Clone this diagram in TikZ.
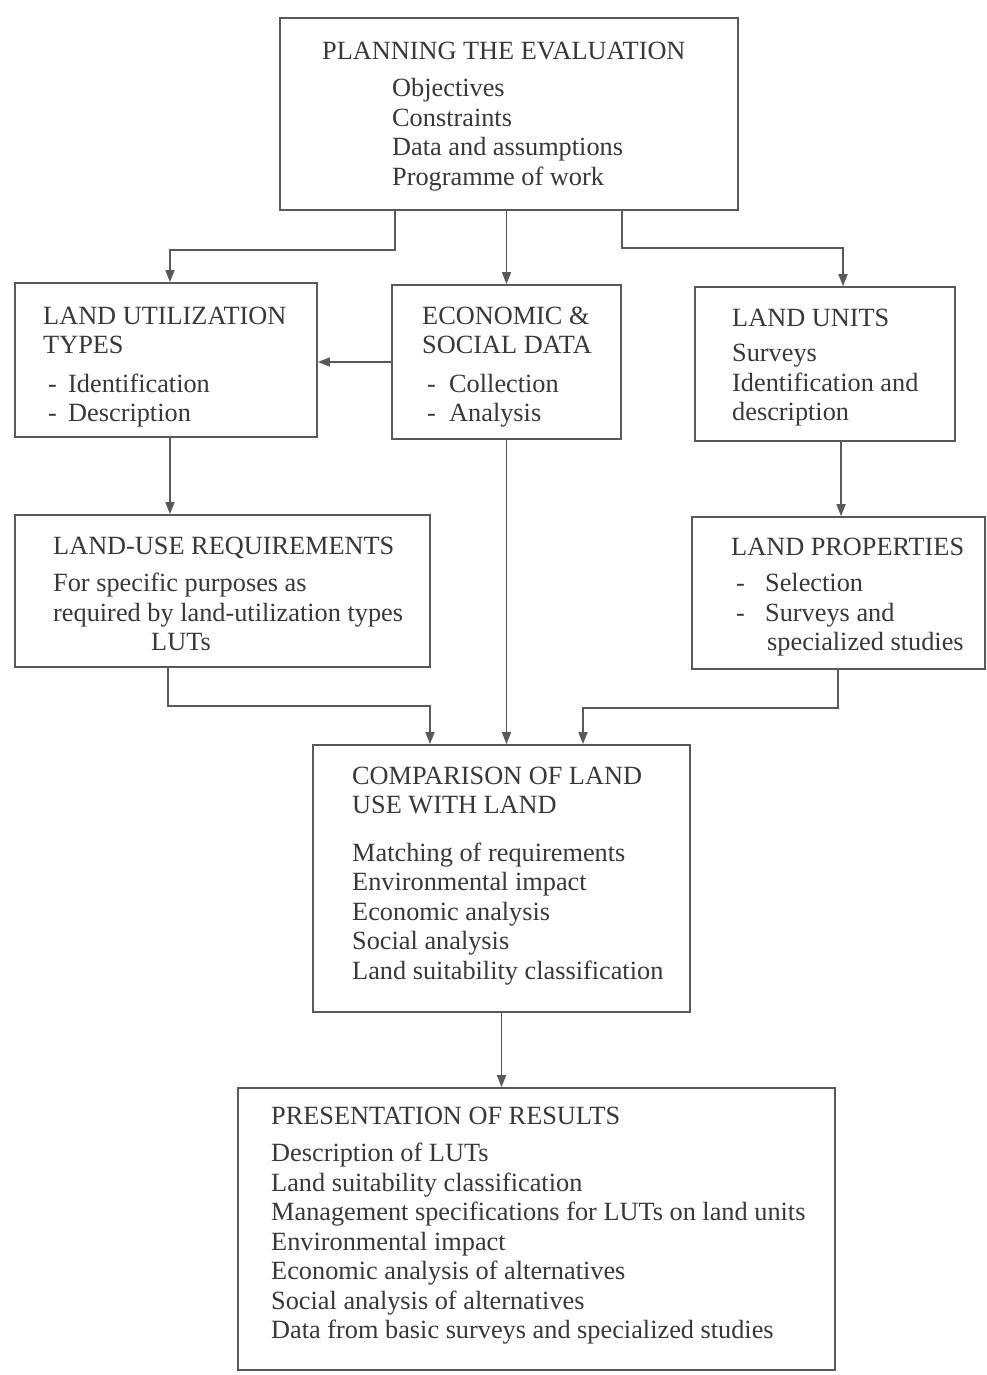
\documentclass[tikz,border=0pt]{standalone}
\usepackage{fontspec}
\setmainfont{Liberation Serif}
\usetikzlibrary{arrows.meta}
\definecolor{linec}{gray}{0.35}
\definecolor{textc}{gray}{0.22}
\newcommand{\dashit}[2]{\makebox[#1][l]{\hspace*{5pt}-}#2}
\begin{document}
\begin{tikzpicture}[x=1pt,y=-1pt,
  box/.style 2 args={draw=linec,line width=1.8pt,minimum width=#1,minimum height=#2,inner sep=0pt},
  txt/.style={anchor=north west,inner sep=0pt,align=left,text=textc,font=\fontsize{26.3}{29.5}\selectfont},
  arr/.style={draw=linec,line width=1.7pt,-{Triangle[length=12pt,width=9pt]}}]
\path[use as bounding box,fill=white] (0,0) rectangle (987,1375);
% boxes
\node[box={458pt}{192pt}] (top) at (509,114) {};
\node[box={302pt}{154pt}] (lut) at (166,360) {};
\node[box={229pt}{154pt}] (eco) at (506.5,362) {};
\node[box={260pt}{154pt}] (lu) at (825,364) {};
\node[box={415pt}{152pt}] (lur) at (222.5,591) {};
\node[box={293pt}{152pt}] (lp) at (838.5,593) {};
\node[box={377pt}{267pt}] (cmp) at (501.5,878.5) {};
\node[box={597pt}{282pt}] (pres) at (536.5,1229) {};
% texts
\node[txt] (topt) at (322,41.5) {PLANNING THE EVALUATION};
\node[txt] (topi) at (392,78.5) {Objectives\\Constraints\\Data and assumptions\\Programme of work};
\node[txt] (lutt) at (43,306.5) {LAND UTILIZATION\\TYPES\\[9pt]\dashit{25pt}{Identification}\\\dashit{25pt}{Description}};
\node[txt] (ecot) at (422,306.5) {ECONOMIC \&\\SOCIAL DATA\\[9pt]\dashit{27pt}{Collection}\\\dashit{27pt}{Analysis}};
\node[txt] (lut2) at (732,308.5) {LAND UNITS\\[6pt]Surveys\\Identification and\\description};
\node[txt] (lurt) at (53,536.5) {LAND-USE REQUIREMENTS\\[8pt]For specific purposes as\\required by land-utilization types\\\hspace*{98pt}LUTs};
\node[txt] (lpt) at (731,537.5) {LAND PROPERTIES\\[7pt]\dashit{34pt}{Selection}\\\dashit{34pt}{Surveys and}\\\hspace*{36pt}specialized studies};
\node[txt] (cmpt) at (352,766.5) {COMPARISON OF LAND\\USE WITH LAND\\[18pt]Matching of requirements\\Environmental impact\\Economic analysis\\Social analysis\\Land suitability classification};
\node[txt] (prest) at (271,1106.5) {PRESENTATION OF RESULTS\\[8pt]Description of LUTs\\Land suitability classification\\Management specifications for LUTs on land units\\Environmental impact\\Economic analysis of alternatives\\Social analysis of alternatives\\Data from basic surveys and specialized studies};
% connectors
\coordinate (a1) at (395,250);
\draw[arr] (top.south -| a1) -- (a1) -| ([xshift=4pt]lut.north);
\draw[arr] (top.south -| eco.north) -- (eco.north);
\coordinate (a3) at (622,248);
\coordinate (a3b) at (843,248);
\draw[arr] (top.south -| a3) -- (a3) -- (a3b) -- (a3b |- lu.north);
\draw[arr] (eco.west) -- (eco.west -| lut.east);
\draw[arr] ([xshift=4pt]lut.south) -- ([xshift=4pt]lut.south |- lur.north);
\draw[arr] (eco.south) -- (eco.south |- cmp.north);
\coordinate (a7) at (841,0);
\draw[arr] (lu.south -| a7) -- (lp.north -| a7);
\coordinate (a8) at (168,706);
\coordinate (a8b) at (430,706);
\draw[arr] (lur.south -| a8) -- (a8) -- (a8b) -- (a8b |- cmp.north);
\coordinate (a9) at (838,708);
\coordinate (a9b) at (583,708);
\draw[arr] (lp.south -| a9) -- (a9) -- (a9b) -- (a9b |- cmp.north);
\draw[arr] (cmp.south) -- (cmp.south |- pres.north);
\end{tikzpicture}
\end{document}
